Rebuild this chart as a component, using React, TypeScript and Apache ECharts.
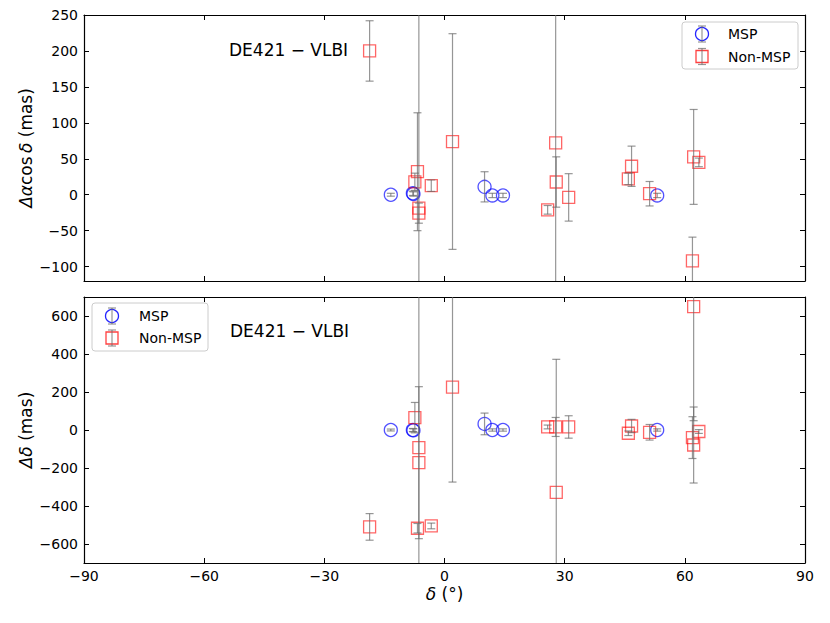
import React, { useEffect, useRef } from "react";
import * as echarts from "echarts";

// ---- Non-MSP sources ----
const decNon = [-18.7, -7.4, -6.75, -6.4, -6.4, -3.3, 2.0, 25.75, 27.75, 27.9, 31.0, 45.9, 46.7, 51.2, 62.2, 63.5, 61.9, 62.2];
const raNon = [200, 18, 32, -18.6, -25.6, 12.6, 74, -21, 72, 17.7, -3.7, 22, 39.6, 1.4, 52.6, 45, -92, null];
const raErrNon = [42, 12, 82, 2000, 14, 8, 150, 6, 2000, 35, 33, 8, 28, 17, 66, 6, 33, 0];
const ddNon = [-510, 65, -517, -93, -172, -505, 226, 16, 16, -328, 16, -17, 21, -12, -79, -8, -40, 649];
const ddErrNon = [70, 80, 25, 2000, 400, 15, 500, 10, 50, 700, 59, 12, 35, 41, 200, 10, 110, 600];

// ---- MSP sources ----
const decMsp = [-13.4, -7.9, -7.75, 10.0, 11.95, 14.6, 53.1];
const raMsp = [0, 2, 1, 11, -1, -1, -1];
const raErrMsp = [2, 3, 3, 21, 3, 3, 3];
const ddMsp = [0, 0, -2, 32, 0, 0, 0];
const ddErrMsp = [5, 8, 8, 57, 6, 6, 6];

// ---- ticks ----
const xTicks = [-90, -60, -30, 0, 30, 60, 90];
const raTicks = [-100, -50, 0, 50, 100, 150, 200, 250];
const ddTicks = [-600, -400, -200, 0, 200, 400, 600];

const FONT = "DejaVu Sans";
const minus = (v: number) => String(v).replace("-", "\u2212");

function errSeries(xi: number, yi: number, xs: number[], ys: (number | null)[], es: number[]) {
  const data: number[][] = [];
  xs.forEach((x, i) => {
    const y = ys[i];
    if (y !== null && y !== undefined) data.push([x, y, es[i]]);
  });
  return {
    type: "custom",
    xAxisIndex: xi,
    yAxisIndex: yi,
    clip: true,
    z: 3,
    encode: { x: 0, y: 1 },
    data,
    renderItem: (_p: any, api: any) => {
      const x = api.value(0);
      const y = api.value(1);
      const e = api.value(2);
      const hi = api.coord([x, y + e]);
      const lo = api.coord([x, y - e]);
      const cw = 4;
      const style = { stroke: "rgba(105,105,105,0.7)", lineWidth: 1.2 };
      return {
        type: "group",
        children: [
          { type: "line", shape: { x1: hi[0], y1: hi[1], x2: lo[0], y2: lo[1] }, style },
          { type: "line", shape: { x1: hi[0] - cw, y1: hi[1], x2: hi[0] + cw, y2: hi[1] }, style },
          { type: "line", shape: { x1: lo[0] - cw, y1: lo[1], x2: lo[0] + cw, y2: lo[1] }, style },
        ],
      };
    },
  };
}

function markSeries(xi: number, yi: number, xs: number[], ys: (number | null)[], msp: boolean) {
  const data: number[][] = [];
  xs.forEach((x, i) => {
    const y = ys[i];
    if (y !== null && y !== undefined) data.push([x, y]);
  });
  return {
    type: "scatter",
    xAxisIndex: xi,
    yAxisIndex: yi,
    z: 2,
    symbol: msp ? "circle" : "rect",
    symbolSize: msp ? 13 : 12,
    data,
    itemStyle: {
      color: "transparent",
      borderColor: msp ? "rgba(0,0,255,0.85)" : "rgba(255,0,0,0.75)",
      borderWidth: 1.3,
    },
  };
}

function legendGraphic(x0: number, y0: number, w: number, h: number, mx: number, tx: number, y1: number, y2: number) {
  const es = { stroke: "rgba(105,105,105,0.7)", lineWidth: 1.2 };
  const bar = (y: number) => [
    { type: "line", shape: { x1: mx, y1: y - 8, x2: mx, y2: y + 8 }, style: es, z: 102 },
    { type: "line", shape: { x1: mx - 4, y1: y - 8, x2: mx + 4, y2: y - 8 }, style: es, z: 102 },
    { type: "line", shape: { x1: mx - 4, y1: y + 8, x2: mx + 4, y2: y + 8 }, style: es, z: 102 },
  ];
  return [
    {
      type: "rect",
      shape: { x: x0, y: y0, width: w, height: h, r: 3 },
      style: { fill: "rgba(255,255,255,0.85)", stroke: "#cccccc", lineWidth: 1 },
      z: 100,
    },
    {
      type: "circle",
      shape: { cx: mx, cy: y1, r: 6.5 },
      style: { fill: "none", stroke: "rgba(0,0,255,0.85)", lineWidth: 1.3 },
      z: 101,
    },
    ...bar(y1),
    {
      type: "rect",
      shape: { x: mx - 6, y: y2 - 6, width: 12, height: 12 },
      style: { fill: "none", stroke: "rgba(255,0,0,0.75)", lineWidth: 1.3 },
      z: 101,
    },
    ...bar(y2),
    {
      type: "text",
      x: tx,
      y: y1,
      style: { text: "MSP", fontFamily: FONT, fontSize: 14, fill: "#000", verticalAlign: "middle" },
      z: 103,
    },
    {
      type: "text",
      x: tx,
      y: y2,
      style: { text: "Non-MSP", fontFamily: FONT, fontSize: 14, fill: "#000", verticalAlign: "middle" },
      z: 103,
    },
  ];
}

export default function App() {
  const ref = useRef<HTMLDivElement>(null);
  useEffect(() => {
    if (!ref.current) return;
    const chart = echarts.init(ref.current, undefined, { renderer: "svg" });
    const axLine = { show: true, onZero: false, lineStyle: { color: "#000", width: 1.2 } };
    const tick = { show: true, inside: true, length: 5, lineStyle: { color: "#000", width: 1 } };
    const lbl = { fontFamily: FONT, fontSize: 14, color: "#000" };
    const L = 84, R = 25;
    const nameStyle = {
      fontFamily: FONT,
      fontSize: 17,
      color: "#000",
      rich: { i: { fontFamily: FONT, fontSize: 17, fontStyle: "italic", color: "#000" } },
    };

    const xBase = { type: "value", min: -90, max: 90, interval: 30, splitLine: { show: false }, axisLine: axLine };
    const option: any = {
      animation: false,
      grid: [
        { left: L, right: R, top: 15, height: 266 },
        { left: L, right: R, top: 297, height: 266 },
      ],
      xAxis: [
        { ...xBase, gridIndex: 0, position: "bottom", axisTick: tick, axisLabel: { show: false } },
        {
          ...xBase,
          gridIndex: 1,
          position: "bottom",
          axisTick: { ...tick, customValues: xTicks },
          axisLabel: { ...lbl, margin: 6, customValues: xTicks, formatter: minus },
          name: "{i|\u03b4} (\u00b0)",
          nameLocation: "middle",
          nameGap: 22,
          nameTextStyle: nameStyle,
        },
        { ...xBase, gridIndex: 0, position: "top", axisTick: tick, axisLabel: { show: false } },
        { ...xBase, gridIndex: 1, position: "top", axisTick: tick, axisLabel: { show: false } },
      ],
      yAxis: [
        {
          type: "value",
          gridIndex: 0,
          min: -120,
          max: 250,
          position: "left",
          splitLine: { show: false },
          axisLine: axLine,
          axisTick: { ...tick, customValues: raTicks },
          axisLabel: { ...lbl, margin: 6, customValues: raTicks, formatter: minus },
          name: "{i|\u0394\u03b1}cos\u2009{i|\u03b4} (mas)",
          nameLocation: "middle",
          nameRotate: 90,
          nameGap: 50,
          nameMoveOverlap: false,
          nameTextStyle: nameStyle,
        },
        {
          type: "value",
          gridIndex: 1,
          min: -700,
          max: 700,
          position: "left",
          splitLine: { show: false },
          axisLine: axLine,
          axisTick: { ...tick, customValues: ddTicks },
          axisLabel: { ...lbl, margin: 6, customValues: ddTicks, formatter: minus },
          name: "{i|\u0394\u03b4} (mas)",
          nameLocation: "middle",
          nameRotate: 90,
          nameGap: 50,
          nameMoveOverlap: false,
          nameTextStyle: nameStyle,
        },
        {
          type: "value",
          gridIndex: 0,
          min: -120,
          max: 250,
          position: "right",
          splitLine: { show: false },
          axisLine: axLine,
          axisTick: { ...tick, customValues: raTicks },
          axisLabel: { show: false },
        },
        {
          type: "value",
          gridIndex: 1,
          min: -700,
          max: 700,
          position: "right",
          splitLine: { show: false },
          axisLine: axLine,
          axisTick: { ...tick, customValues: ddTicks },
          axisLabel: { show: false },
        },
      ],
      series: [
        markSeries(0, 0, decMsp, raMsp, true),
        markSeries(0, 0, decNon, raNon, false),
        errSeries(0, 0, decMsp, raMsp, raErrMsp),
        errSeries(0, 0, decNon, raNon, raErrNon),
        markSeries(1, 1, decMsp, ddMsp, true),
        markSeries(1, 1, decNon, ddNon, false),
        errSeries(1, 1, decMsp, ddMsp, ddErrMsp),
        errSeries(1, 1, decNon, ddNon, ddErrNon),
      ],
      graphic: [
        {
          type: "text",
          x: 229,
          y: 50,
          style: { text: "DE421 \u2212 VLBI", fontFamily: FONT, fontSize: 17, fill: "#000", verticalAlign: "middle" },
          z: 50,
        },
        {
          type: "text",
          x: 230,
          y: 331,
          style: { text: "DE421 \u2212 VLBI", fontFamily: FONT, fontSize: 17, fill: "#000", verticalAlign: "middle" },
          z: 50,
        },
        ...legendGraphic(682, 22, 116, 47, 702, 728, 34, 56.5),
        ...legendGraphic(92, 303, 116, 48, 112, 139, 316, 338),
      ],
    };
    chart.setOption(option);
    return () => chart.dispose();
  }, []);
  return <div ref={ref} style={{ position: "absolute", left: 0, top: 0, width: 830, height: 623 }} />;
}
